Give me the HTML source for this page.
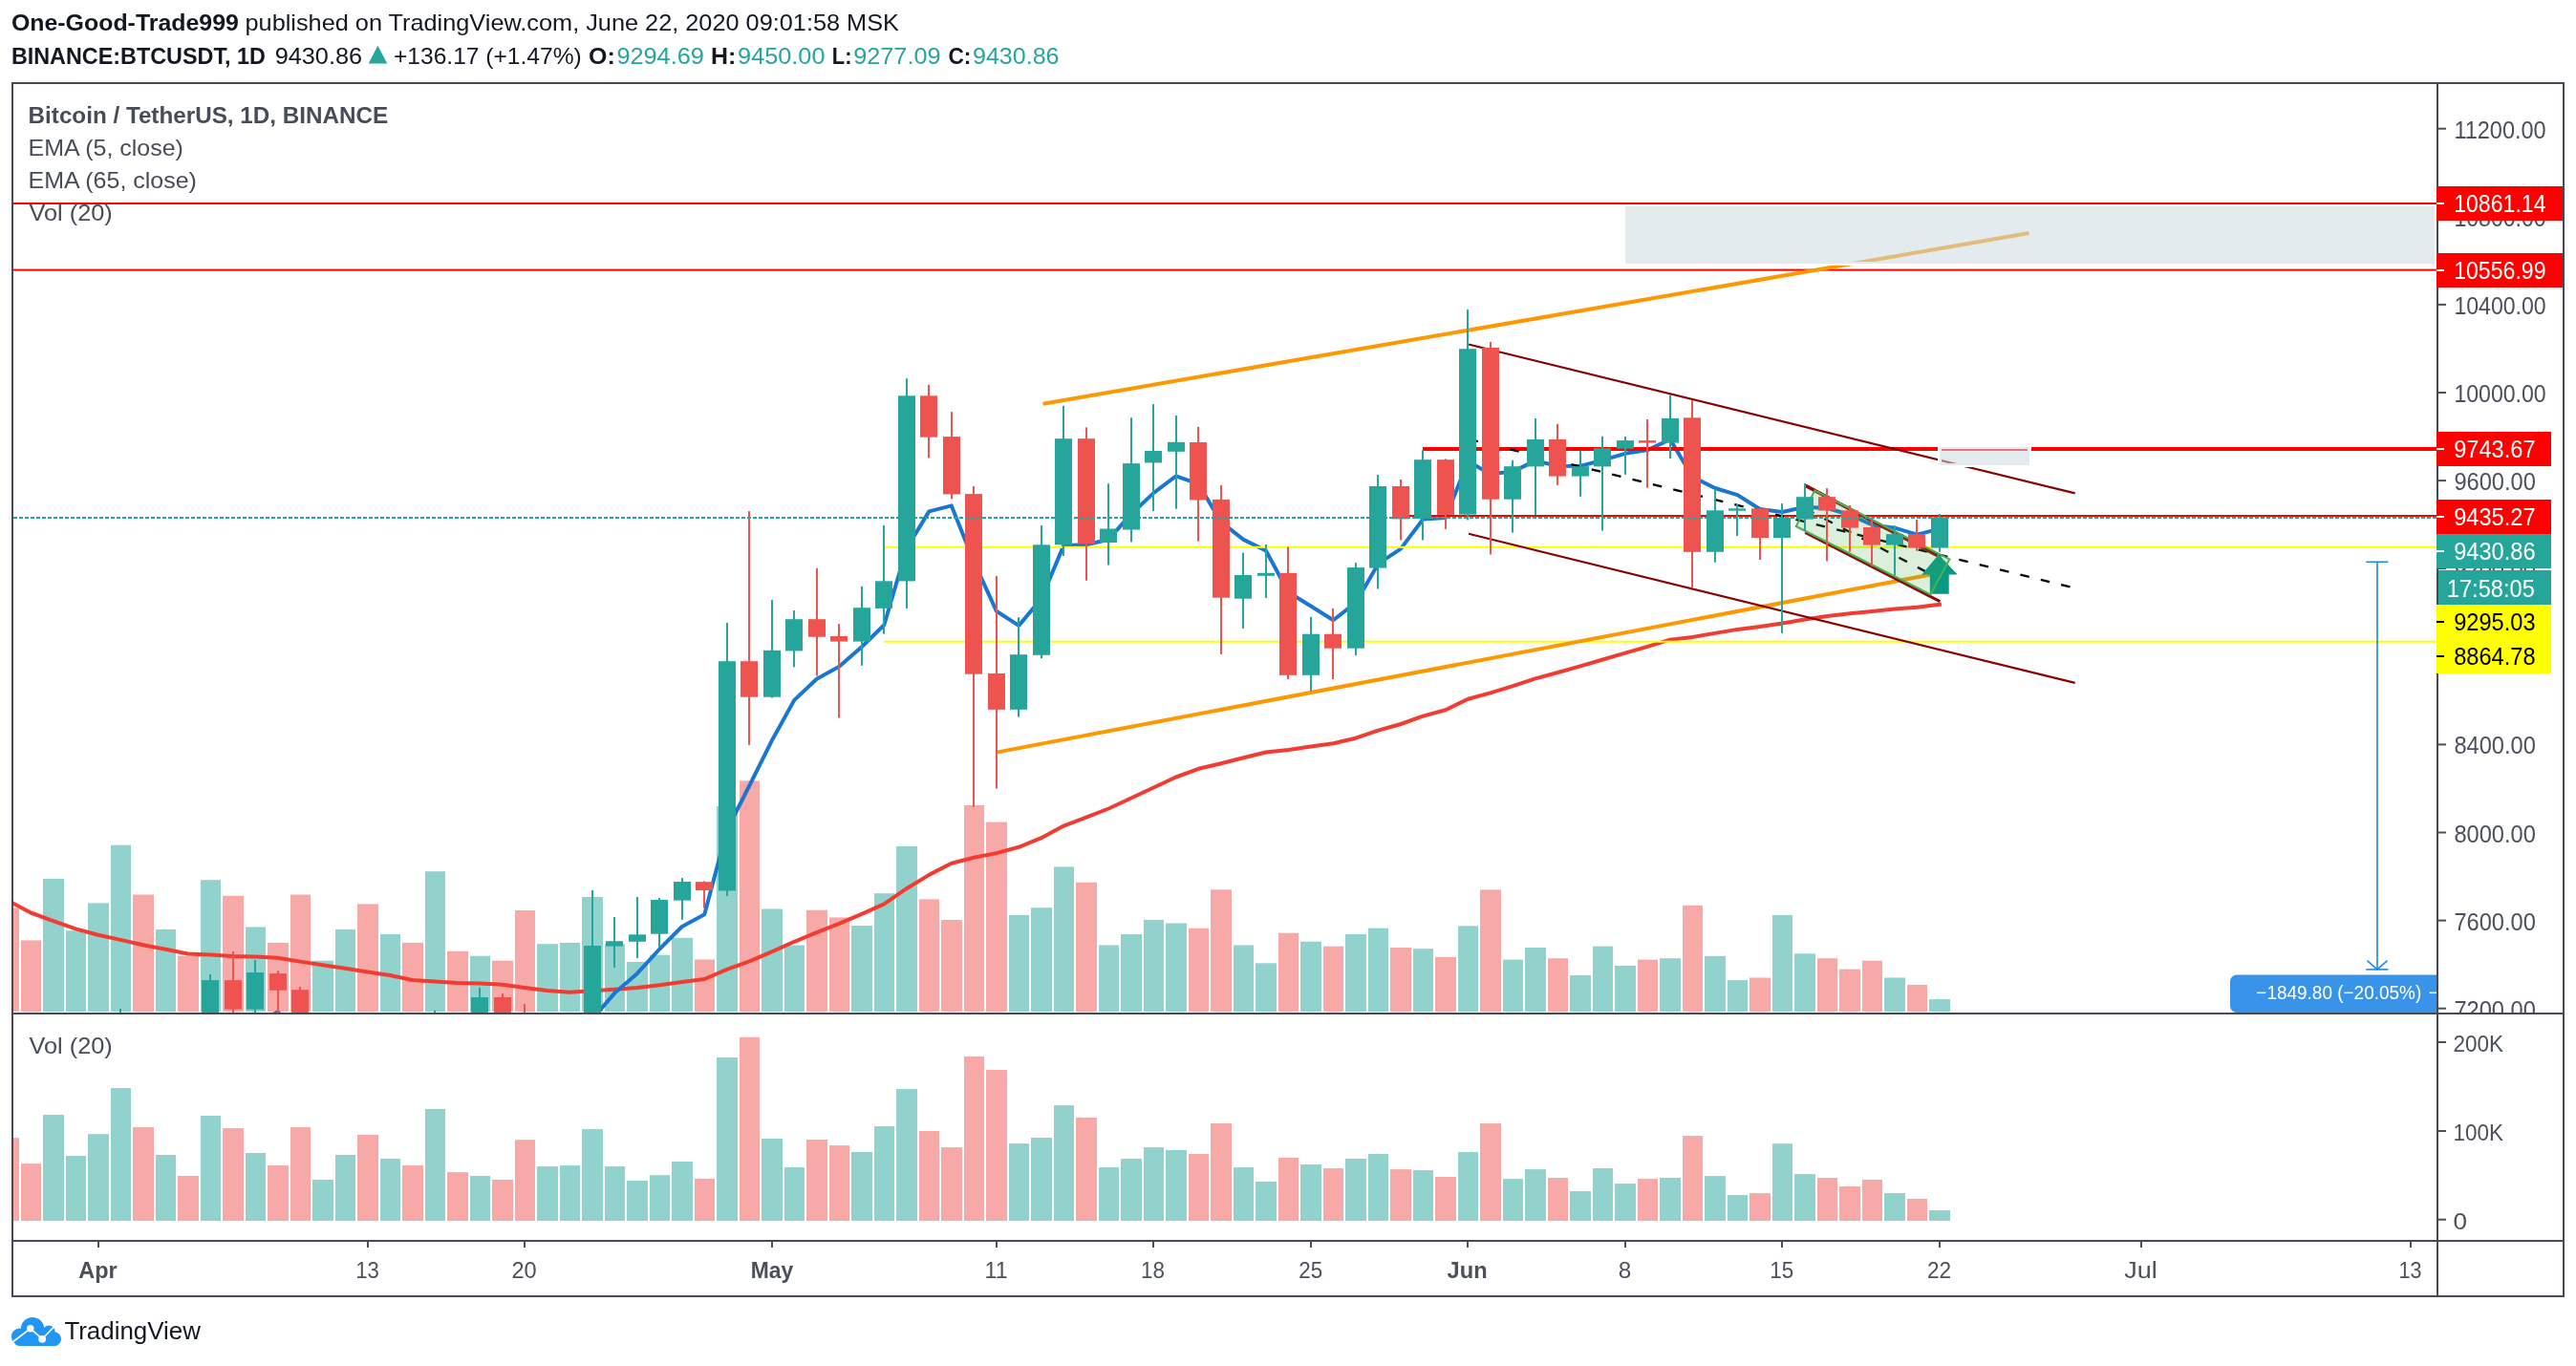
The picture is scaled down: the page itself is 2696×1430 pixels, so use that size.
<!DOCTYPE html>
<html><head><meta charset="utf-8"><title>BTCUSDT chart</title>
<style>html,body{margin:0;padding:0;background:#fff;}svg{display:block;will-change:transform;}</style></head>
<body>
<svg width="2696" height="1430" viewBox="0 0 2696 1430" font-family="'Liberation Sans', Arial, sans-serif">
<defs>
<clipPath id="mp"><rect x="14" y="88" width="2536" height="972"/></clipPath>
<clipPath id="vp"><rect x="14" y="1062" width="2536" height="236"/></clipPath>
<clipPath id="pa"><rect x="2550" y="88" width="132" height="972"/></clipPath>
</defs>
<rect width="2696" height="1430" fill="#fff"/>
<g clip-path="url(#mp)">
<text x="29.6" y="128.8" font-size="24.5" fill="#484c58" font-weight="bold" textLength="376.5" lengthAdjust="spacingAndGlyphs">Bitcoin / TetherUS, 1D, BINANCE</text>
<text x="29.6" y="162.9" font-size="24.5" fill="#484c58" font-weight="normal" textLength="162.3" lengthAdjust="spacingAndGlyphs">EMA (5, close)</text>
<text x="29.6" y="197.2" font-size="24.5" fill="#484c58" font-weight="normal" textLength="176.3" lengthAdjust="spacingAndGlyphs">EMA (65, close)</text>
<text x="30.5" y="231" font-size="24.5" fill="#484c58" font-weight="normal" textLength="87.2" lengthAdjust="spacingAndGlyphs">Vol (20)</text>
<rect x="-2" y="950.5" width="22" height="108.5" fill="#f7a9a7"/>
<rect x="22" y="984.4" width="21" height="74.6" fill="#f7a9a7"/>
<rect x="45" y="919.9" width="22" height="139.1" fill="#92d2cc"/>
<rect x="69" y="974.2" width="21" height="84.8" fill="#92d2cc"/>
<rect x="92" y="945.4" width="22" height="113.6" fill="#92d2cc"/>
<rect x="116" y="884.7" width="21" height="174.3" fill="#92d2cc"/>
<rect x="139" y="936.5" width="22" height="122.5" fill="#f7a9a7"/>
<rect x="163" y="972.9" width="21" height="86.1" fill="#92d2cc"/>
<rect x="186" y="1000.7" width="22" height="58.3" fill="#f7a9a7"/>
<rect x="210" y="921.2" width="21" height="137.8" fill="#92d2cc"/>
<rect x="233" y="937.7" width="22" height="121.3" fill="#f7a9a7"/>
<rect x="257" y="970.4" width="21" height="88.6" fill="#92d2cc"/>
<rect x="280" y="986.9" width="22" height="72.1" fill="#f7a9a7"/>
<rect x="304" y="936.5" width="21" height="122.5" fill="#f7a9a7"/>
<rect x="327" y="1005.7" width="22" height="53.3" fill="#92d2cc"/>
<rect x="351" y="972.9" width="21" height="86.1" fill="#92d2cc"/>
<rect x="374" y="946.4" width="22" height="112.6" fill="#f7a9a7"/>
<rect x="398" y="978.0" width="21" height="81.0" fill="#92d2cc"/>
<rect x="421" y="986.9" width="22" height="72.1" fill="#f7a9a7"/>
<rect x="445" y="912.2" width="21" height="146.8" fill="#92d2cc"/>
<rect x="468" y="995.8" width="22" height="63.2" fill="#f7a9a7"/>
<rect x="492" y="1000.7" width="21" height="58.3" fill="#92d2cc"/>
<rect x="515" y="1005.7" width="22" height="53.3" fill="#f7a9a7"/>
<rect x="539" y="953.0" width="21" height="106.0" fill="#f7a9a7"/>
<rect x="562" y="988.2" width="22" height="70.8" fill="#92d2cc"/>
<rect x="586" y="986.9" width="21" height="72.1" fill="#92d2cc"/>
<rect x="609" y="939.0" width="22" height="120.0" fill="#92d2cc"/>
<rect x="633" y="988.2" width="21" height="70.8" fill="#92d2cc"/>
<rect x="656" y="1007.0" width="22" height="52.0" fill="#92d2cc"/>
<rect x="680" y="999.7" width="21" height="59.3" fill="#92d2cc"/>
<rect x="703" y="981.8" width="22" height="77.2" fill="#92d2cc"/>
<rect x="727" y="1004.5" width="21" height="54.5" fill="#f7a9a7"/>
<rect x="750" y="844.2" width="22" height="214.8" fill="#92d2cc"/>
<rect x="774" y="817.4" width="21" height="241.6" fill="#f7a9a7"/>
<rect x="797" y="951.5" width="22" height="107.5" fill="#92d2cc"/>
<rect x="821" y="989.5" width="21" height="69.5" fill="#92d2cc"/>
<rect x="844" y="952.7" width="22" height="106.3" fill="#f7a9a7"/>
<rect x="868" y="960.4" width="21" height="98.6" fill="#f7a9a7"/>
<rect x="891" y="969.1" width="22" height="89.9" fill="#92d2cc"/>
<rect x="915" y="935.2" width="21" height="123.8" fill="#92d2cc"/>
<rect x="938" y="886.0" width="22" height="173.0" fill="#92d2cc"/>
<rect x="962" y="941.4" width="21" height="117.6" fill="#f7a9a7"/>
<rect x="985" y="963.0" width="22" height="96.0" fill="#f7a9a7"/>
<rect x="1009" y="842.9" width="21" height="216.1" fill="#f7a9a7"/>
<rect x="1032" y="860.6" width="22" height="198.4" fill="#f7a9a7"/>
<rect x="1056" y="957.9" width="21" height="101.1" fill="#92d2cc"/>
<rect x="1079" y="950.2" width="22" height="108.8" fill="#92d2cc"/>
<rect x="1103" y="907.4" width="21" height="151.6" fill="#92d2cc"/>
<rect x="1126" y="923.7" width="22" height="135.3" fill="#f7a9a7"/>
<rect x="1150" y="989.5" width="21" height="69.5" fill="#92d2cc"/>
<rect x="1173" y="978.0" width="22" height="81.0" fill="#92d2cc"/>
<rect x="1197" y="963.0" width="21" height="96.0" fill="#92d2cc"/>
<rect x="1220" y="966.5" width="22" height="92.5" fill="#92d2cc"/>
<rect x="1244" y="971.7" width="21" height="87.3" fill="#f7a9a7"/>
<rect x="1267" y="931.3" width="22" height="127.7" fill="#f7a9a7"/>
<rect x="1291" y="989.5" width="21" height="69.5" fill="#92d2cc"/>
<rect x="1314" y="1008.3" width="22" height="50.7" fill="#92d2cc"/>
<rect x="1338" y="976.7" width="21" height="82.3" fill="#f7a9a7"/>
<rect x="1361" y="985.7" width="22" height="73.3" fill="#92d2cc"/>
<rect x="1385" y="990.7" width="21" height="68.3" fill="#f7a9a7"/>
<rect x="1408" y="978.0" width="22" height="81.0" fill="#92d2cc"/>
<rect x="1432" y="971.7" width="21" height="87.3" fill="#92d2cc"/>
<rect x="1455" y="992.0" width="22" height="67.0" fill="#f7a9a7"/>
<rect x="1479" y="993.2" width="21" height="65.8" fill="#92d2cc"/>
<rect x="1502" y="1001.9" width="22" height="57.1" fill="#f7a9a7"/>
<rect x="1526" y="969.3" width="21" height="89.7" fill="#92d2cc"/>
<rect x="1549" y="931.4" width="22" height="127.6" fill="#f7a9a7"/>
<rect x="1573" y="1004.6" width="21" height="54.4" fill="#92d2cc"/>
<rect x="1596" y="992.0" width="22" height="67.0" fill="#92d2cc"/>
<rect x="1620" y="1003.2" width="21" height="55.8" fill="#f7a9a7"/>
<rect x="1643" y="1020.9" width="22" height="38.1" fill="#92d2cc"/>
<rect x="1667" y="990.6" width="21" height="68.4" fill="#92d2cc"/>
<rect x="1690" y="1010.9" width="22" height="48.1" fill="#92d2cc"/>
<rect x="1714" y="1004.6" width="21" height="54.4" fill="#f7a9a7"/>
<rect x="1737" y="1003.2" width="22" height="55.8" fill="#92d2cc"/>
<rect x="1761" y="947.8" width="21" height="111.2" fill="#f7a9a7"/>
<rect x="1784" y="1000.8" width="22" height="58.2" fill="#92d2cc"/>
<rect x="1808" y="1026.1" width="21" height="32.9" fill="#92d2cc"/>
<rect x="1831" y="1023.5" width="22" height="35.5" fill="#f7a9a7"/>
<rect x="1855" y="958.0" width="21" height="101.0" fill="#92d2cc"/>
<rect x="1878" y="998.3" width="22" height="60.7" fill="#92d2cc"/>
<rect x="1902" y="1003.2" width="21" height="55.8" fill="#f7a9a7"/>
<rect x="1925" y="1014.6" width="22" height="44.4" fill="#f7a9a7"/>
<rect x="1949" y="1005.7" width="21" height="53.3" fill="#f7a9a7"/>
<rect x="1972" y="1023.5" width="22" height="35.5" fill="#92d2cc"/>
<rect x="1996" y="1031.0" width="21" height="28.0" fill="#f7a9a7"/>
<rect x="2019" y="1046.1" width="22" height="12.9" fill="#92d2cc"/>
<polyline fill="none" stroke="#f23c32" stroke-width="4" stroke-linejoin="round" stroke-linecap="square" points="8.7,943.0 32.2,955.5 55.7,964.2 79.2,972.4 102.7,978.8 126.2,983.9 149.7,989.3 173.2,993.7 196.7,998.5 220.2,999.4 243.7,1001.1 267.2,1001.6 290.7,1002.7 314.2,1006.6 337.7,1010.3 361.2,1013.8 384.7,1017.5 408.2,1021.0 431.7,1026.0 455.2,1027.5 478.7,1029.0 502.3,1029.5 525.8,1030.8 549.3,1034.0 572.8,1037.1 596.3,1038.7 619.8,1037.3 643.3,1035.7 666.8,1034.0 690.3,1031.2 713.8,1027.9 737.3,1025.0 760.8,1014.9 784.3,1006.3 807.8,996.4 831.3,985.8 854.8,976.2 878.3,966.9 901.8,956.9 925.3,946.4 948.8,930.2 972.3,915.9 995.8,903.8 1019.3,897.8 1042.8,893.1 1066.3,886.8 1089.8,877.2 1113.3,864.6 1136.8,855.6 1160.3,846.5 1183.8,835.5 1207.3,824.5 1230.8,813.5 1254.3,804.8 1277.9,799.3 1301.4,793.3 1324.9,787.5 1348.4,785.0 1371.9,781.4 1395.4,778.2 1418.9,772.7 1442.4,764.7 1465.9,758.0 1489.4,749.6 1512.9,743.2 1536.4,731.7 1559.9,725.4 1583.4,718.2 1606.9,710.4 1630.4,704.0 1653.9,697.4 1677.4,690.5 1700.9,683.6 1724.4,676.9 1747.9,669.7 1771.4,666.9 1794.9,662.9 1818.4,658.9 1841.9,656.0 1865.4,652.5 1888.9,648.5 1912.4,645.1 1935.9,642.3 1959.4,640.1 1982.9,637.6 2006.4,635.7 2029.9,632.8"/>
<polyline fill="none" stroke="#1976d2" stroke-width="4" stroke-linejoin="round" stroke-linecap="square" points="8.7,1191.5 32.2,1247.0 55.7,1244.7 79.2,1241.9 102.7,1222.3 126.2,1197.6 149.7,1185.7 173.2,1168.4 196.7,1163.3 220.2,1117.6 243.7,1097.3 267.2,1070.8 290.7,1059.5 314.2,1084.1 337.7,1099.1 361.2,1107.1 384.7,1117.5 408.2,1121.9 431.7,1143.8 455.2,1120.5 478.7,1106.5 502.3,1085.7 525.8,1081.5 549.3,1099.9 572.8,1111.7 596.3,1105.3 619.8,1066.9 643.3,1039.6 666.8,1019.2 690.3,993.5 713.8,970.0 737.3,957.3 760.8,868.9 784.3,822.5 807.8,775.3 831.3,732.9 854.8,710.8 878.3,697.8 901.8,677.2 925.3,654.3 948.8,574.3 972.3,535.4 995.8,529.4 1019.3,588.2 1042.8,639.7 1066.3,654.9 1089.8,626.7 1113.3,570.9 1136.8,570.3 1160.3,564.7 1183.8,538.2 1207.3,516.1 1230.8,498.3 1254.3,506.7 1277.9,546.4 1301.4,564.9 1324.9,576.5 1348.4,620.0 1371.9,634.5 1395.4,649.3 1418.9,630.9 1442.4,590.2 1465.9,574.6 1489.4,543.5 1512.9,542.0 1536.4,483.0 1559.9,496.3 1583.4,493.6 1606.9,482.4 1630.4,487.8 1653.9,487.9 1677.4,481.7 1700.9,474.8 1724.4,471.1 1747.9,460.0 1771.4,499.3 1794.9,511.0 1818.4,518.1 1841.9,533.0 1865.4,536.0 1888.9,530.7 1912.4,532.0 1935.9,538.9 1959.4,549.4 1982.9,552.7 2006.4,559.6 2029.9,553.6"/>
<rect x="14" y="212" width="2536" height="2" fill="#ff0000"/>
<rect x="14" y="281.6" width="2536" height="2" fill="#ff0000"/>
<rect x="1489" y="468" width="1061" height="4" fill="#ff0000"/>
<rect x="1475" y="539" width="1075" height="2" fill="#ff0000"/>
<rect x="925" y="571.8" width="1625" height="2" fill="#ffff00"/>
<rect x="925" y="670.7" width="1625" height="2" fill="#ffff00"/>
<line x1="1091.6" y1="422.8" x2="2123.5" y2="244" stroke="#ff9800" stroke-width="4"/>
<line x1="1044" y1="787.4" x2="2022" y2="601.2" stroke="#ff9800" stroke-width="4"/>
<line x1="1537" y1="360.5" x2="2171.7" y2="516.4" stroke="#8b0000" stroke-width="2.2"/>
<line x1="1537" y1="558.8" x2="2171.7" y2="714.9" stroke="#8b0000" stroke-width="2.2"/>
<line x1="1537" y1="459.65" x2="2171.7" y2="615.65" stroke="#000" stroke-width="2.4" stroke-dasharray="9.6 12.4" stroke-dashoffset="-0.6"/>
<line x1="1889.6" y1="508.3" x2="2027.8" y2="581.6" stroke="#8a0c0c" stroke-width="3.6"/>
<line x1="1889.3" y1="557.3" x2="2030.4" y2="629.6" stroke="#8a0c0c" stroke-width="3.2"/>
<line x1="1889.5" y1="532.7" x2="2029" y2="605.4" stroke="#000" stroke-width="2.4" stroke-dasharray="9.6 12.4" stroke-dashoffset="-0.4"/>
<polygon points="2029,580.5 2048.7,601.5 2039.7,601.5 2039.7,621.7 2019.8,621.7 2019.8,601.5 2011.3,601.5" fill="#079985"/>
<polygon points="1899.3,513.5 2040.4,585.4 2020.5,622.3 1879.7,551" fill="rgba(76,175,80,0.2)" stroke="#4caf50" stroke-width="2"/>
<rect x="1701" y="216" width="847" height="60" fill="none" stroke="#fff" stroke-width="4"/>
<rect x="1701" y="216" width="847" height="60" fill="rgba(203,218,223,0.54)"/>
<rect x="2030" y="468" width="94" height="19" fill="none" stroke="#fff" stroke-width="4"/>
<rect x="2030" y="468" width="94" height="19" fill="rgba(203,218,223,0.54)"/>
<rect x="125" y="1056.0" width="2" height="114.0" fill="#26a69a"/>
<rect x="117" y="1148.0" width="18" height="12.0" fill="#26a69a"/>
<rect x="219" y="1020.1" width="2" height="132.9" fill="#26a69a"/>
<rect x="211" y="1026.1" width="18" height="126.4" fill="#26a69a"/>
<rect x="243" y="996.0" width="2" height="70.0" fill="#ef5350"/>
<rect x="235" y="1026.1" width="18" height="30.6" fill="#ef5350"/>
<rect x="266" y="1005.0" width="2" height="61.0" fill="#26a69a"/>
<rect x="258" y="1018.0" width="18" height="38.7" fill="#26a69a"/>
<rect x="290" y="1016.2" width="2" height="61.5" fill="#ef5350"/>
<rect x="282" y="1019.1" width="18" height="17.6" fill="#ef5350"/>
<rect x="313" y="1033.0" width="2" height="125.2" fill="#ef5350"/>
<rect x="305" y="1036.2" width="18" height="97.2" fill="#ef5350"/>
<rect x="454" y="1057.8" width="2" height="132.2" fill="#26a69a"/>
<rect x="446" y="1073.8" width="18" height="113.8" fill="#26a69a"/>
<rect x="501" y="1034.0" width="2" height="46.0" fill="#26a69a"/>
<rect x="493" y="1044.0" width="18" height="34.6" fill="#26a69a"/>
<rect x="525" y="1040.0" width="2" height="40.0" fill="#ef5350"/>
<rect x="517" y="1044.0" width="18" height="29.1" fill="#ef5350"/>
<rect x="548" y="1051.0" width="2" height="89.0" fill="#ef5350"/>
<rect x="540" y="1073.1" width="18" height="63.7" fill="#ef5350"/>
<rect x="619" y="932.0" width="2" height="140.0" fill="#26a69a"/>
<rect x="611" y="990.0" width="18" height="81.5" fill="#26a69a"/>
<rect x="642" y="960.0" width="2" height="53.0" fill="#26a69a"/>
<rect x="634" y="985.2" width="18" height="5.4" fill="#26a69a"/>
<rect x="666" y="939.0" width="2" height="64.0" fill="#26a69a"/>
<rect x="658" y="978.3" width="18" height="7.5" fill="#26a69a"/>
<rect x="689" y="940.1" width="2" height="51.7" fill="#26a69a"/>
<rect x="681" y="942.0" width="18" height="35.7" fill="#26a69a"/>
<rect x="713" y="919.1" width="2" height="43.7" fill="#26a69a"/>
<rect x="705" y="923.0" width="18" height="19.6" fill="#26a69a"/>
<rect x="736" y="922.4" width="2" height="28.3" fill="#ef5350"/>
<rect x="728" y="923.2" width="18" height="8.8" fill="#ef5350"/>
<rect x="760" y="651.9" width="2" height="286.1" fill="#26a69a"/>
<rect x="752" y="692.2" width="18" height="240.3" fill="#26a69a"/>
<rect x="783" y="535.1" width="2" height="244.7" fill="#ef5350"/>
<rect x="775" y="692.2" width="18" height="37.5" fill="#ef5350"/>
<rect x="807" y="628.2" width="2" height="102.4" fill="#26a69a"/>
<rect x="799" y="680.8" width="18" height="48.9" fill="#26a69a"/>
<rect x="830" y="639.0" width="2" height="59.3" fill="#26a69a"/>
<rect x="822" y="648.2" width="18" height="33.2" fill="#26a69a"/>
<rect x="854" y="594.8" width="2" height="112.7" fill="#ef5350"/>
<rect x="846" y="648.2" width="18" height="18.5" fill="#ef5350"/>
<rect x="877" y="653.1" width="2" height="98.4" fill="#ef5350"/>
<rect x="869" y="666.0" width="18" height="5.6" fill="#ef5350"/>
<rect x="901" y="613.8" width="2" height="83.0" fill="#26a69a"/>
<rect x="893" y="636.2" width="18" height="35.4" fill="#26a69a"/>
<rect x="924" y="550.0" width="2" height="113.6" fill="#26a69a"/>
<rect x="916" y="608.3" width="18" height="28.6" fill="#26a69a"/>
<rect x="948" y="396.2" width="2" height="240.8" fill="#26a69a"/>
<rect x="940" y="414.3" width="18" height="194.1" fill="#26a69a"/>
<rect x="971" y="402.8" width="2" height="76.7" fill="#ef5350"/>
<rect x="963" y="414.3" width="18" height="43.4" fill="#ef5350"/>
<rect x="995" y="431.2" width="2" height="91.2" fill="#ef5350"/>
<rect x="987" y="457.1" width="18" height="60.3" fill="#ef5350"/>
<rect x="1018" y="509.0" width="2" height="335.7" fill="#ef5350"/>
<rect x="1010" y="517.1" width="18" height="188.6" fill="#ef5350"/>
<rect x="1042" y="603.0" width="2" height="222.5" fill="#ef5350"/>
<rect x="1034" y="705.0" width="18" height="37.8" fill="#ef5350"/>
<rect x="1065" y="646.1" width="2" height="104.5" fill="#26a69a"/>
<rect x="1057" y="685.2" width="18" height="57.6" fill="#26a69a"/>
<rect x="1089" y="550.1" width="2" height="139.1" fill="#26a69a"/>
<rect x="1081" y="570.3" width="18" height="115.5" fill="#26a69a"/>
<rect x="1112" y="424.8" width="2" height="157.2" fill="#26a69a"/>
<rect x="1104" y="459.2" width="18" height="111.1" fill="#26a69a"/>
<rect x="1136" y="447.4" width="2" height="160.3" fill="#ef5350"/>
<rect x="1128" y="459.2" width="18" height="110.1" fill="#ef5350"/>
<rect x="1159" y="506.3" width="2" height="85.2" fill="#26a69a"/>
<rect x="1151" y="553.5" width="18" height="14.5" fill="#26a69a"/>
<rect x="1183" y="437.3" width="2" height="130.0" fill="#26a69a"/>
<rect x="1175" y="485.1" width="18" height="69.4" fill="#26a69a"/>
<rect x="1206" y="423.1" width="2" height="111.9" fill="#26a69a"/>
<rect x="1198" y="472.0" width="18" height="12.4" fill="#26a69a"/>
<rect x="1230" y="435.0" width="2" height="97.6" fill="#26a69a"/>
<rect x="1222" y="462.8" width="18" height="10.0" fill="#26a69a"/>
<rect x="1253" y="446.8" width="2" height="119.9" fill="#ef5350"/>
<rect x="1245" y="463.0" width="18" height="60.4" fill="#ef5350"/>
<rect x="1277" y="508.0" width="2" height="176.9" fill="#ef5350"/>
<rect x="1269" y="522.9" width="18" height="102.8" fill="#ef5350"/>
<rect x="1300" y="578.6" width="2" height="79.4" fill="#26a69a"/>
<rect x="1292" y="602.0" width="18" height="24.7" fill="#26a69a"/>
<rect x="1324" y="570.0" width="2" height="55.9" fill="#26a69a"/>
<rect x="1316" y="599.8" width="18" height="3.0" fill="#26a69a"/>
<rect x="1347" y="572.4" width="2" height="138.6" fill="#ef5350"/>
<rect x="1339" y="599.8" width="18" height="107.0" fill="#ef5350"/>
<rect x="1371" y="645.8" width="2" height="77.7" fill="#26a69a"/>
<rect x="1363" y="663.7" width="18" height="43.1" fill="#26a69a"/>
<rect x="1394" y="636.9" width="2" height="74.1" fill="#ef5350"/>
<rect x="1386" y="663.7" width="18" height="15.0" fill="#ef5350"/>
<rect x="1418" y="589.1" width="2" height="97.0" fill="#26a69a"/>
<rect x="1410" y="594.1" width="18" height="84.6" fill="#26a69a"/>
<rect x="1441" y="497.0" width="2" height="119.5" fill="#26a69a"/>
<rect x="1433" y="509.0" width="18" height="85.6" fill="#26a69a"/>
<rect x="1465" y="502.0" width="2" height="63.5" fill="#ef5350"/>
<rect x="1457" y="509.0" width="18" height="34.4" fill="#ef5350"/>
<rect x="1488" y="471.2" width="2" height="94.3" fill="#26a69a"/>
<rect x="1480" y="481.2" width="18" height="61.9" fill="#26a69a"/>
<rect x="1512" y="480.4" width="2" height="73.4" fill="#ef5350"/>
<rect x="1504" y="481.2" width="18" height="57.7" fill="#ef5350"/>
<rect x="1535" y="324.2" width="2" height="220.2" fill="#26a69a"/>
<rect x="1527" y="365.2" width="18" height="173.4" fill="#26a69a"/>
<rect x="1559" y="358.0" width="2" height="222.5" fill="#ef5350"/>
<rect x="1551" y="364.0" width="18" height="158.7" fill="#ef5350"/>
<rect x="1582" y="481.7" width="2" height="75.9" fill="#26a69a"/>
<rect x="1574" y="488.2" width="18" height="34.5" fill="#26a69a"/>
<rect x="1606" y="438.1" width="2" height="100.8" fill="#26a69a"/>
<rect x="1598" y="460.0" width="18" height="28.4" fill="#26a69a"/>
<rect x="1629" y="443.9" width="2" height="63.9" fill="#ef5350"/>
<rect x="1621" y="460.0" width="18" height="38.6" fill="#ef5350"/>
<rect x="1653" y="471.7" width="2" height="48.1" fill="#26a69a"/>
<rect x="1645" y="488.2" width="18" height="10.4" fill="#26a69a"/>
<rect x="1676" y="456.8" width="2" height="98.8" fill="#26a69a"/>
<rect x="1668" y="469.2" width="18" height="19.2" fill="#26a69a"/>
<rect x="1700" y="457.0" width="2" height="39.8" fill="#26a69a"/>
<rect x="1692" y="461.1" width="18" height="8.6" fill="#26a69a"/>
<rect x="1723" y="439.0" width="2" height="71.7" fill="#ef5350"/>
<rect x="1715" y="461.1" width="18" height="2.5" fill="#ef5350"/>
<rect x="1747" y="413.3" width="2" height="66.7" fill="#26a69a"/>
<rect x="1739" y="437.9" width="18" height="25.7" fill="#26a69a"/>
<rect x="1770" y="418.9" width="2" height="196.4" fill="#ef5350"/>
<rect x="1762" y="437.3" width="18" height="140.5" fill="#ef5350"/>
<rect x="1794" y="511.7" width="2" height="76.9" fill="#26a69a"/>
<rect x="1786" y="534.3" width="18" height="43.5" fill="#26a69a"/>
<rect x="1817" y="527.5" width="2" height="33.5" fill="#26a69a"/>
<rect x="1809" y="532.3" width="18" height="2.4" fill="#26a69a"/>
<rect x="1841" y="532.3" width="2" height="53.7" fill="#ef5350"/>
<rect x="1833" y="532.3" width="18" height="30.7" fill="#ef5350"/>
<rect x="1864" y="527.1" width="2" height="135.8" fill="#26a69a"/>
<rect x="1856" y="541.9" width="18" height="21.1" fill="#26a69a"/>
<rect x="1888" y="506.0" width="2" height="49.6" fill="#26a69a"/>
<rect x="1880" y="520.2" width="18" height="23.4" fill="#26a69a"/>
<rect x="1911" y="511.1" width="2" height="76.3" fill="#ef5350"/>
<rect x="1903" y="520.2" width="18" height="14.3" fill="#ef5350"/>
<rect x="1935" y="529.0" width="2" height="48.6" fill="#ef5350"/>
<rect x="1927" y="534.3" width="18" height="18.3" fill="#ef5350"/>
<rect x="1958" y="540.6" width="2" height="52.2" fill="#ef5350"/>
<rect x="1950" y="552.0" width="18" height="18.6" fill="#ef5350"/>
<rect x="1982" y="550.3" width="2" height="52.3" fill="#26a69a"/>
<rect x="1974" y="559.1" width="18" height="11.5" fill="#26a69a"/>
<rect x="2005" y="544.1" width="2" height="32.6" fill="#ef5350"/>
<rect x="1997" y="559.1" width="18" height="14.4" fill="#ef5350"/>
<rect x="2029" y="538.0" width="2" height="39.8" fill="#26a69a"/>
<rect x="2021" y="541.5" width="18" height="32.0" fill="#26a69a"/>
<line x1="14" y1="542" x2="2550" y2="542" stroke="#26a69a" stroke-width="2" stroke-dasharray="4 2"/>
<line x1="2488" y1="588.3" x2="2488" y2="1014.9" stroke="#1e88e5" stroke-width="1.6"/>
<line x1="2476.3" y1="588.3" x2="2499.4" y2="588.3" stroke="#1e88e5" stroke-width="1.6"/>
<line x1="2476.3" y1="1014.9" x2="2499.4" y2="1014.9" stroke="#1e88e5" stroke-width="1.6"/>
<polyline points="2477.5,1005.7 2488,1014.9 2498.5,1005.7" fill="none" stroke="#1e88e5" stroke-width="1.6"/>
<rect x="2334" y="1020.4" width="240" height="39.6" rx="7" fill="#3893e9"/>
<text x="2361.3" y="1046.1" font-size="20" fill="#fff" font-weight="normal" textLength="173.0" lengthAdjust="spacingAndGlyphs">−1849.80 (−20.05%)</text>
<text x="2541.8" y="1046.1" font-size="20" fill="#fff" font-weight="normal">−</text>
</g>
<g clip-path="url(#vp)">
<text x="30.5" y="1102.8" font-size="24.5" fill="#484c58" font-weight="normal" textLength="87.2" lengthAdjust="spacingAndGlyphs">Vol (20)</text>
<rect x="-2" y="1191.2" width="22" height="86.8" fill="#f7a9a7"/>
<rect x="22" y="1218.1" width="21" height="59.9" fill="#f7a9a7"/>
<rect x="45" y="1167.0" width="22" height="111.0" fill="#92d2cc"/>
<rect x="69" y="1210.0" width="21" height="68.0" fill="#92d2cc"/>
<rect x="92" y="1187.2" width="22" height="90.8" fill="#92d2cc"/>
<rect x="116" y="1139.1" width="21" height="138.9" fill="#92d2cc"/>
<rect x="139" y="1180.1" width="22" height="97.9" fill="#f7a9a7"/>
<rect x="163" y="1209.0" width="21" height="69.0" fill="#92d2cc"/>
<rect x="186" y="1231.0" width="22" height="47.0" fill="#f7a9a7"/>
<rect x="210" y="1168.0" width="21" height="110.0" fill="#92d2cc"/>
<rect x="233" y="1181.1" width="22" height="96.9" fill="#f7a9a7"/>
<rect x="257" y="1207.0" width="21" height="71.0" fill="#92d2cc"/>
<rect x="280" y="1220.1" width="22" height="57.9" fill="#f7a9a7"/>
<rect x="304" y="1180.1" width="21" height="97.9" fill="#f7a9a7"/>
<rect x="327" y="1235.0" width="22" height="43.0" fill="#92d2cc"/>
<rect x="351" y="1209.0" width="21" height="69.0" fill="#92d2cc"/>
<rect x="374" y="1188.0" width="22" height="90.0" fill="#f7a9a7"/>
<rect x="398" y="1213.0" width="21" height="65.0" fill="#92d2cc"/>
<rect x="421" y="1220.1" width="22" height="57.9" fill="#f7a9a7"/>
<rect x="445" y="1160.9" width="21" height="117.1" fill="#92d2cc"/>
<rect x="468" y="1227.1" width="22" height="50.9" fill="#f7a9a7"/>
<rect x="492" y="1231.0" width="21" height="47.0" fill="#92d2cc"/>
<rect x="515" y="1235.0" width="22" height="43.0" fill="#f7a9a7"/>
<rect x="539" y="1193.2" width="21" height="84.8" fill="#f7a9a7"/>
<rect x="562" y="1221.1" width="22" height="56.9" fill="#92d2cc"/>
<rect x="586" y="1220.1" width="21" height="57.9" fill="#92d2cc"/>
<rect x="609" y="1182.1" width="22" height="95.9" fill="#92d2cc"/>
<rect x="633" y="1221.1" width="21" height="56.9" fill="#92d2cc"/>
<rect x="656" y="1236.0" width="22" height="42.0" fill="#92d2cc"/>
<rect x="680" y="1230.2" width="21" height="47.8" fill="#92d2cc"/>
<rect x="703" y="1216.0" width="22" height="62.0" fill="#92d2cc"/>
<rect x="727" y="1234.0" width="21" height="44.0" fill="#f7a9a7"/>
<rect x="750" y="1107.0" width="22" height="171.0" fill="#92d2cc"/>
<rect x="774" y="1085.8" width="21" height="192.2" fill="#f7a9a7"/>
<rect x="797" y="1192.0" width="22" height="86.0" fill="#92d2cc"/>
<rect x="821" y="1222.1" width="21" height="55.9" fill="#92d2cc"/>
<rect x="844" y="1193.0" width="22" height="85.0" fill="#f7a9a7"/>
<rect x="868" y="1199.1" width="21" height="78.9" fill="#f7a9a7"/>
<rect x="891" y="1206.0" width="22" height="72.0" fill="#92d2cc"/>
<rect x="915" y="1179.1" width="21" height="98.9" fill="#92d2cc"/>
<rect x="938" y="1140.1" width="22" height="137.9" fill="#92d2cc"/>
<rect x="962" y="1184.0" width="21" height="94.0" fill="#f7a9a7"/>
<rect x="985" y="1201.1" width="22" height="76.9" fill="#f7a9a7"/>
<rect x="1009" y="1106.0" width="21" height="172.0" fill="#f7a9a7"/>
<rect x="1032" y="1120.0" width="22" height="158.0" fill="#f7a9a7"/>
<rect x="1056" y="1197.1" width="21" height="80.9" fill="#92d2cc"/>
<rect x="1079" y="1191.0" width="22" height="87.0" fill="#92d2cc"/>
<rect x="1103" y="1157.1" width="21" height="120.9" fill="#92d2cc"/>
<rect x="1126" y="1170.0" width="22" height="108.0" fill="#f7a9a7"/>
<rect x="1150" y="1222.1" width="21" height="55.9" fill="#92d2cc"/>
<rect x="1173" y="1213.0" width="22" height="65.0" fill="#92d2cc"/>
<rect x="1197" y="1201.1" width="21" height="76.9" fill="#92d2cc"/>
<rect x="1220" y="1203.9" width="22" height="74.1" fill="#92d2cc"/>
<rect x="1244" y="1208.0" width="21" height="70.0" fill="#f7a9a7"/>
<rect x="1267" y="1176.0" width="22" height="102.0" fill="#f7a9a7"/>
<rect x="1291" y="1222.1" width="21" height="55.9" fill="#92d2cc"/>
<rect x="1314" y="1237.0" width="22" height="41.0" fill="#92d2cc"/>
<rect x="1338" y="1212.0" width="21" height="66.0" fill="#f7a9a7"/>
<rect x="1361" y="1219.1" width="22" height="58.9" fill="#92d2cc"/>
<rect x="1385" y="1223.1" width="21" height="54.9" fill="#f7a9a7"/>
<rect x="1408" y="1213.0" width="22" height="65.0" fill="#92d2cc"/>
<rect x="1432" y="1208.0" width="21" height="70.0" fill="#92d2cc"/>
<rect x="1455" y="1224.1" width="22" height="53.9" fill="#f7a9a7"/>
<rect x="1479" y="1225.1" width="21" height="52.9" fill="#92d2cc"/>
<rect x="1502" y="1232.0" width="22" height="46.0" fill="#f7a9a7"/>
<rect x="1526" y="1206.1" width="21" height="71.9" fill="#92d2cc"/>
<rect x="1549" y="1176.1" width="22" height="101.9" fill="#f7a9a7"/>
<rect x="1573" y="1234.1" width="21" height="43.9" fill="#92d2cc"/>
<rect x="1596" y="1224.1" width="22" height="53.9" fill="#92d2cc"/>
<rect x="1620" y="1233.0" width="21" height="45.0" fill="#f7a9a7"/>
<rect x="1643" y="1247.0" width="22" height="31.0" fill="#92d2cc"/>
<rect x="1667" y="1223.0" width="21" height="55.0" fill="#92d2cc"/>
<rect x="1690" y="1239.1" width="22" height="38.9" fill="#92d2cc"/>
<rect x="1714" y="1234.1" width="21" height="43.9" fill="#f7a9a7"/>
<rect x="1737" y="1233.0" width="22" height="45.0" fill="#92d2cc"/>
<rect x="1761" y="1189.1" width="21" height="88.9" fill="#f7a9a7"/>
<rect x="1784" y="1231.1" width="22" height="46.9" fill="#92d2cc"/>
<rect x="1808" y="1251.1" width="21" height="26.9" fill="#92d2cc"/>
<rect x="1831" y="1249.1" width="22" height="28.9" fill="#f7a9a7"/>
<rect x="1855" y="1197.2" width="21" height="80.8" fill="#92d2cc"/>
<rect x="1878" y="1229.1" width="22" height="48.9" fill="#92d2cc"/>
<rect x="1902" y="1233.0" width="21" height="45.0" fill="#f7a9a7"/>
<rect x="1925" y="1242.0" width="22" height="36.0" fill="#f7a9a7"/>
<rect x="1949" y="1235.0" width="21" height="43.0" fill="#f7a9a7"/>
<rect x="1972" y="1249.1" width="22" height="28.9" fill="#92d2cc"/>
<rect x="1996" y="1255.0" width="21" height="23.0" fill="#f7a9a7"/>
<rect x="2019" y="1267.0" width="22" height="11.0" fill="#92d2cc"/>
</g>
<rect x="12" y="86" width="2672" height="2" fill="#464a55"/>
<rect x="12" y="86" width="2" height="1272" fill="#464a55"/>
<rect x="2682" y="86" width="2" height="1272" fill="#464a55"/>
<rect x="2550" y="86" width="2" height="1272" fill="#464a55"/>
<rect x="12" y="1060" width="2672" height="2" fill="#464a55"/>
<rect x="12" y="1298" width="2672" height="2" fill="#464a55"/>
<rect x="12" y="1356" width="2672" height="2" fill="#464a55"/>
<g clip-path="url(#pa)">
<rect x="2552" y="1054.7" width="8" height="2" fill="#4c505b"/>
<text x="2568.4" y="1065.7" font-size="25" fill="#4c505b" font-weight="normal" textLength="85.4" lengthAdjust="spacingAndGlyphs">7200.00</text>
<rect x="2552" y="962.6" width="8" height="2" fill="#4c505b"/>
<text x="2568.4" y="973.6" font-size="25" fill="#4c505b" font-weight="normal" textLength="85.4" lengthAdjust="spacingAndGlyphs">7600.00</text>
<rect x="2552" y="870.5" width="8" height="2" fill="#4c505b"/>
<text x="2568.4" y="881.5" font-size="25" fill="#4c505b" font-weight="normal" textLength="85.4" lengthAdjust="spacingAndGlyphs">8000.00</text>
<rect x="2552" y="778.4" width="8" height="2" fill="#4c505b"/>
<text x="2568.4" y="789.4" font-size="25" fill="#4c505b" font-weight="normal" textLength="85.4" lengthAdjust="spacingAndGlyphs">8400.00</text>
<rect x="2552" y="686.3" width="8" height="2" fill="#4c505b"/>
<text x="2568.4" y="697.3" font-size="25" fill="#4c505b" font-weight="normal" textLength="85.4" lengthAdjust="spacingAndGlyphs">8800.00</text>
<rect x="2552" y="594.2" width="8" height="2" fill="#4c505b"/>
<text x="2568.4" y="605.2" font-size="25" fill="#4c505b" font-weight="normal" textLength="85.4" lengthAdjust="spacingAndGlyphs">9200.00</text>
<rect x="2552" y="502.1" width="8" height="2" fill="#4c505b"/>
<text x="2568.4" y="513.1" font-size="25" fill="#4c505b" font-weight="normal" textLength="85.4" lengthAdjust="spacingAndGlyphs">9600.00</text>
<rect x="2552" y="410.0" width="8" height="2" fill="#4c505b"/>
<text x="2568.4" y="421.0" font-size="25" fill="#4c505b" font-weight="normal" textLength="96.3" lengthAdjust="spacingAndGlyphs">10000.00</text>
<rect x="2552" y="317.9" width="8" height="2" fill="#4c505b"/>
<text x="2568.4" y="328.9" font-size="25" fill="#4c505b" font-weight="normal" textLength="96.3" lengthAdjust="spacingAndGlyphs">10400.00</text>
<rect x="2552" y="225.8" width="8" height="2" fill="#4c505b"/>
<text x="2568.4" y="236.8" font-size="25" fill="#4c505b" font-weight="normal" textLength="96.3" lengthAdjust="spacingAndGlyphs">10800.00</text>
<rect x="2552" y="133.7" width="8" height="2" fill="#4c505b"/>
<text x="2568.4" y="144.7" font-size="25" fill="#4c505b" font-weight="normal" textLength="96.3" lengthAdjust="spacingAndGlyphs">11200.00</text>
<rect x="2550" y="195" width="132" height="36" fill="#ff0000"/>
<rect x="2550" y="212" width="8" height="2" fill="#fff"/>
<text x="2568.2" y="222" font-size="25" fill="#fff" font-weight="normal" textLength="96.3" lengthAdjust="spacingAndGlyphs">10861.14</text>
<rect x="2550" y="265" width="132" height="36" fill="#ff0000"/>
<rect x="2550" y="282" width="8" height="2" fill="#fff"/>
<text x="2568.2" y="292" font-size="25" fill="#fff" font-weight="normal" textLength="96.3" lengthAdjust="spacingAndGlyphs">10556.99</text>
<rect x="2550" y="452" width="120" height="36" fill="#ff0000"/>
<rect x="2550" y="469" width="8" height="2" fill="#fff"/>
<text x="2568.2" y="479" font-size="25" fill="#fff" font-weight="normal" textLength="85.4" lengthAdjust="spacingAndGlyphs">9743.67</text>
<rect x="2550" y="523" width="120" height="36" fill="#ff0000"/>
<rect x="2550" y="540" width="8" height="2" fill="#fff"/>
<text x="2568.2" y="550" font-size="25" fill="#fff" font-weight="normal" textLength="85.4" lengthAdjust="spacingAndGlyphs">9435.27</text>
<rect x="2550" y="559" width="120" height="36" fill="#26a69a"/>
<rect x="2550" y="576" width="8" height="2" fill="#fff"/>
<text x="2568.2" y="586" font-size="25" fill="#fff" font-weight="normal" textLength="85.4" lengthAdjust="spacingAndGlyphs">9430.86</text>
<rect x="2552" y="597" width="118" height="36" fill="#26a69a"/>
<text x="2560.8" y="624.5" font-size="25" fill="#fff" font-weight="normal" textLength="92.0" lengthAdjust="spacingAndGlyphs">17:58:05</text>
<rect x="2550" y="633" width="120" height="36" fill="#ffff00"/>
<rect x="2550" y="650" width="8" height="2" fill="#000"/>
<text x="2568.2" y="660" font-size="25" fill="#000" font-weight="normal" textLength="85.4" lengthAdjust="spacingAndGlyphs">9295.03</text>
<rect x="2550" y="669" width="120" height="36" fill="#ffff00"/>
<rect x="2550" y="686" width="8" height="2" fill="#000"/>
<text x="2568.2" y="696" font-size="25" fill="#000" font-weight="normal" textLength="85.4" lengthAdjust="spacingAndGlyphs">8864.78</text>
</g>
<rect x="2552" y="1090" width="8" height="2" fill="#4c505b"/>
<text x="2567.5" y="1100.8" font-size="24.5" fill="#4c505b" font-weight="normal" textLength="52.6" lengthAdjust="spacingAndGlyphs">200K</text>
<rect x="2552" y="1183" width="8" height="2" fill="#4c505b"/>
<text x="2567.5" y="1193.8" font-size="24.5" fill="#4c505b" font-weight="normal" textLength="52.6" lengthAdjust="spacingAndGlyphs">100K</text>
<rect x="2552" y="1275.7" width="8" height="2" fill="#4c505b"/>
<text x="2567.5" y="1286.5" font-size="24.5" fill="#4c505b" font-weight="normal" textLength="14.5" lengthAdjust="spacingAndGlyphs">0</text>
<rect x="102" y="1300" width="2" height="6" fill="#4c505b"/>
<text x="102.4" y="1337.7" font-size="23.3" fill="#4c505b" font-weight="bold" textLength="40.4" lengthAdjust="spacingAndGlyphs" text-anchor="middle">Apr</text>
<rect x="384" y="1300" width="2" height="6" fill="#4c505b"/>
<text x="384.5" y="1337.7" font-size="23.3" fill="#4c505b" font-weight="normal" textLength="24.6" lengthAdjust="spacingAndGlyphs" text-anchor="middle">13</text>
<rect x="548" y="1300" width="2" height="6" fill="#4c505b"/>
<text x="548.6" y="1337.7" font-size="23.3" fill="#4c505b" font-weight="normal" textLength="26.2" lengthAdjust="spacingAndGlyphs" text-anchor="middle">20</text>
<rect x="807" y="1300" width="2" height="6" fill="#4c505b"/>
<text x="807.9" y="1337.7" font-size="23.3" fill="#4c505b" font-weight="bold" textLength="44.5" lengthAdjust="spacingAndGlyphs" text-anchor="middle">May</text>
<rect x="1042" y="1300" width="2" height="6" fill="#4c505b"/>
<text x="1042.6" y="1337.7" font-size="23.3" fill="#4c505b" font-weight="normal" textLength="24.1" lengthAdjust="spacingAndGlyphs" text-anchor="middle">11</text>
<rect x="1206" y="1300" width="2" height="6" fill="#4c505b"/>
<text x="1206.5" y="1337.7" font-size="23.3" fill="#4c505b" font-weight="normal" textLength="24.9" lengthAdjust="spacingAndGlyphs" text-anchor="middle">18</text>
<rect x="1371" y="1300" width="2" height="6" fill="#4c505b"/>
<text x="1371.7" y="1337.7" font-size="23.3" fill="#4c505b" font-weight="normal" textLength="24.9" lengthAdjust="spacingAndGlyphs" text-anchor="middle">25</text>
<rect x="1535" y="1300" width="2" height="6" fill="#4c505b"/>
<text x="1535.6" y="1337.7" font-size="23.3" fill="#4c505b" font-weight="bold" textLength="42.0" lengthAdjust="spacingAndGlyphs" text-anchor="middle">Jun</text>
<rect x="1700" y="1300" width="2" height="6" fill="#4c505b"/>
<text x="1700.5" y="1337.7" font-size="23.3" fill="#4c505b" font-weight="normal" textLength="13.5" lengthAdjust="spacingAndGlyphs" text-anchor="middle">8</text>
<rect x="1864" y="1300" width="2" height="6" fill="#4c505b"/>
<text x="1864.7" y="1337.7" font-size="23.3" fill="#4c505b" font-weight="normal" textLength="24.9" lengthAdjust="spacingAndGlyphs" text-anchor="middle">15</text>
<rect x="2029" y="1300" width="2" height="6" fill="#4c505b"/>
<text x="2029.6" y="1337.7" font-size="23.3" fill="#4c505b" font-weight="normal" textLength="25.2" lengthAdjust="spacingAndGlyphs" text-anchor="middle">22</text>
<rect x="2240" y="1300" width="2" height="6" fill="#4c505b"/>
<text x="2240.5" y="1337.7" font-size="23.3" fill="#4c505b" font-weight="normal" textLength="34.5" lengthAdjust="spacingAndGlyphs" text-anchor="middle">Jul</text>
<rect x="2522" y="1300" width="2" height="6" fill="#4c505b"/>
<text x="2522.5" y="1337.7" font-size="23.3" fill="#4c505b" font-weight="normal" textLength="23.9" lengthAdjust="spacingAndGlyphs" text-anchor="middle">13</text>
<text x="11.9" y="32.3" font-size="24" fill="#131722" font-weight="bold" textLength="238.0" lengthAdjust="spacingAndGlyphs">One-Good-Trade999</text>
<text x="256.5" y="32.3" font-size="24" fill="#131722" font-weight="normal" textLength="684.4" lengthAdjust="spacingAndGlyphs">published on TradingView.com, June 22, 2020 09:01:58 MSK</text>
<text x="11.9" y="66.6" font-size="24" fill="#131722" font-weight="bold" textLength="266.0" lengthAdjust="spacingAndGlyphs">BINANCE:BTCUSDT, 1D</text>
<text x="287.7" y="66.6" font-size="24" fill="#131722" font-weight="normal" textLength="91.4" lengthAdjust="spacingAndGlyphs">9430.86</text>
<polygon points="395.4,47.8 405.2,66.4 385.7,66.4" fill="#26a69a"/>
<text x="412.0" y="66.6" font-size="24" fill="#131722" font-weight="normal" textLength="196.7" lengthAdjust="spacingAndGlyphs">+136.17 (+1.47%)</text>
<text x="616.0" y="66.6" font-size="24" fill="#131722" font-weight="bold" textLength="27.7" lengthAdjust="spacingAndGlyphs">O:</text>
<text x="645.4" y="66.6" font-size="24" fill="#26a69a" font-weight="normal" textLength="91.4" lengthAdjust="spacingAndGlyphs">9294.69</text>
<text x="744.1" y="66.6" font-size="24" fill="#131722" font-weight="bold" textLength="26.3" lengthAdjust="spacingAndGlyphs">H:</text>
<text x="772.1" y="66.6" font-size="24" fill="#26a69a" font-weight="normal" textLength="91.4" lengthAdjust="spacingAndGlyphs">9450.00</text>
<text x="870.8" y="66.6" font-size="24" fill="#131722" font-weight="bold" textLength="20.6" lengthAdjust="spacingAndGlyphs">L:</text>
<text x="893.2" y="66.6" font-size="24" fill="#26a69a" font-weight="normal" textLength="91.4" lengthAdjust="spacingAndGlyphs">9277.09</text>
<text x="992.4" y="66.6" font-size="24" fill="#131722" font-weight="bold" textLength="23.9" lengthAdjust="spacingAndGlyphs">C:</text>
<text x="1018.0" y="66.6" font-size="24" fill="#26a69a" font-weight="normal" textLength="90.5" lengthAdjust="spacingAndGlyphs">9430.86</text>
<g fill="#2196f3"><circle cx="20.7" cy="1399.2" r="8.8"/><circle cx="34" cy="1391.1" r="12.2"/><circle cx="51.1" cy="1394" r="6.5"/><circle cx="56.5" cy="1401.8" r="7.5"/><rect x="15" y="1396" width="44" height="13" rx="5"/></g>
<polyline points="12.5,1405.5 31.8,1390.8 44.2,1401.6 57,1388.5" fill="none" stroke="#fff" stroke-width="1.6"/>
<circle cx="31.8" cy="1390.8" r="3.7" fill="#fff"/><circle cx="44.2" cy="1401.8" r="3.9" fill="#fff"/>
<text x="67.4" y="1402.3" font-size="25" fill="#131722" font-weight="normal" textLength="142.5" lengthAdjust="spacingAndGlyphs">TradingView</text>
</svg>
</body></html>
